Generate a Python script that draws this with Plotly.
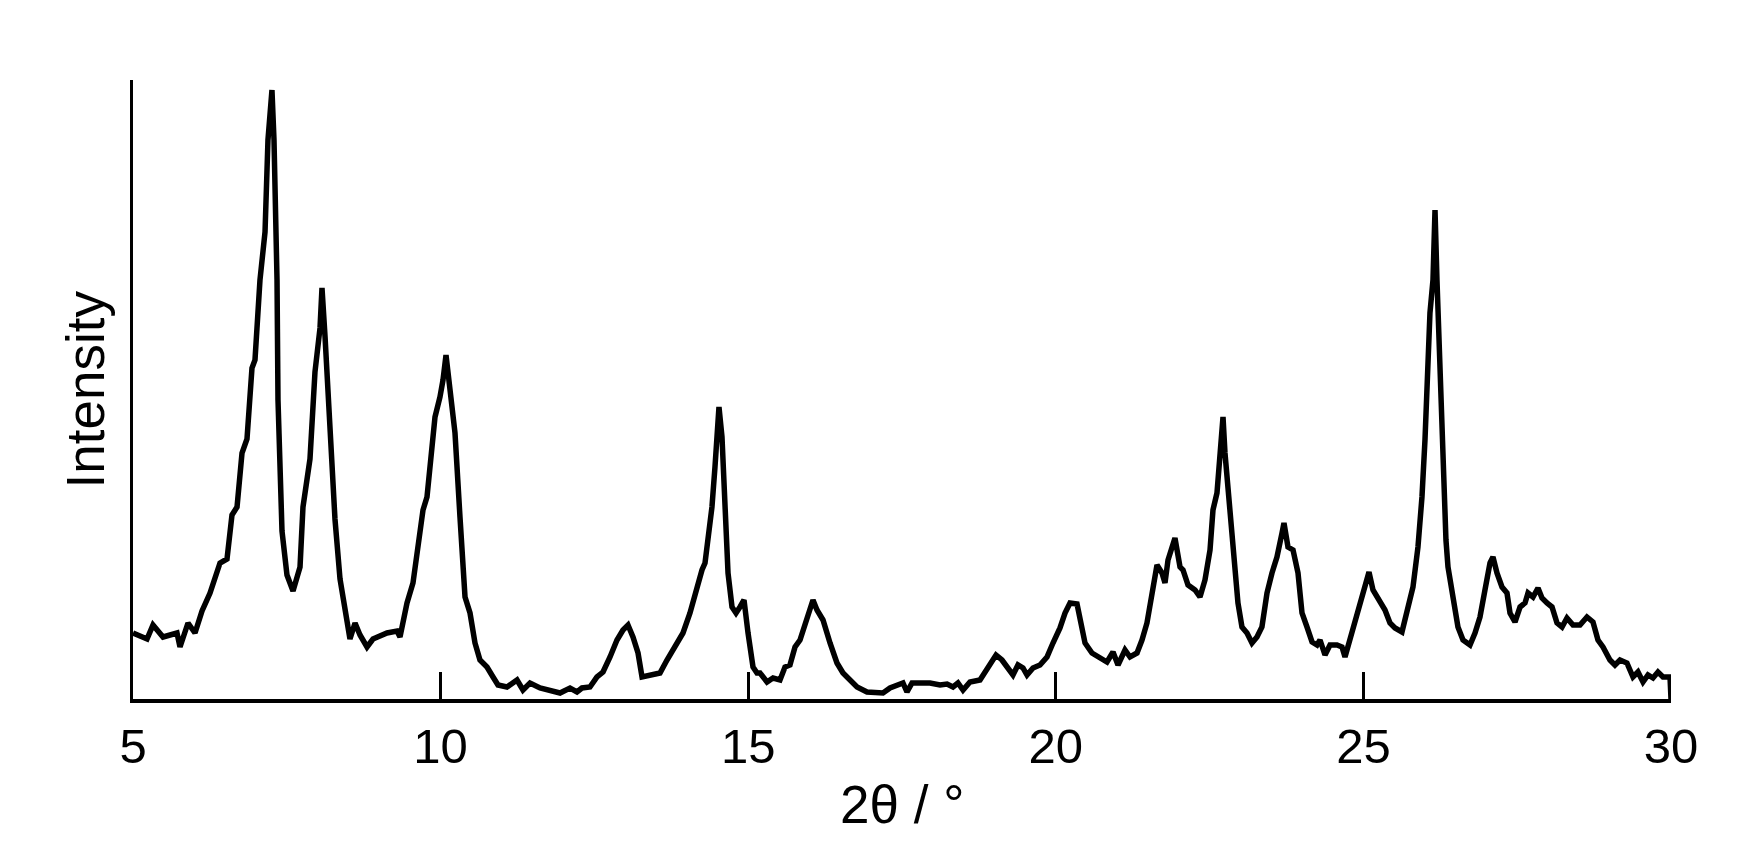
import plotly.graph_objects as go

# 2θ (degrees) and intensity (arbitrary units)
two_theta = [
    5.000, 5.228, 5.325, 5.488, 5.715, 5.764, 5.894, 6.008, 6.122, 6.252,
    6.414, 6.528, 6.609, 6.691, 6.772, 6.853, 6.934, 6.983, 7.064, 7.146,
    7.194, 7.259, 7.292, 7.341, 7.357, 7.422, 7.503, 7.601, 7.715, 7.763,
    7.877, 7.958, 8.040, 8.072, 8.121, 8.202, 8.283, 8.365, 8.446, 8.527,
    8.609, 8.690, 8.804, 8.901, 9.129, 9.291,
    9.340, 9.454, 9.551, 9.633, 9.714, 9.779, 9.860, 9.909, 9.990, 10.039,
    10.088, 10.153, 10.234, 10.315, 10.397, 10.478, 10.559, 10.640, 10.754, 10.852,
    10.933, 11.079, 11.242, 11.339, 11.453, 11.616, 11.778, 11.941, 12.103, 12.217,
    12.298, 12.428, 12.542, 12.640, 12.754, 12.867, 12.965, 13.046, 13.127, 13.209,
    13.274, 13.453, 13.566,
    13.680, 13.778, 13.859, 13.940, 14.054, 14.168, 14.249, 14.298, 14.346, 14.411,
    14.460, 14.493, 14.525, 14.574, 14.623, 14.672, 14.737, 14.802, 14.866, 14.932,
    14.997, 15.078, 15.143, 15.192, 15.306, 15.403, 15.517, 15.598, 15.679, 15.761,
    15.842, 15.956, 16.053, 16.118, 16.216, 16.330, 16.443, 16.541, 16.655, 16.769,
    16.931, 17.094, 17.191, 17.305, 17.419, 17.516, 17.581, 17.663, 17.793, 17.955,
    18.118, 18.232, 18.329, 18.410, 18.492, 18.605, 18.768, 18.882, 18.963, 19.028,
    19.125, 19.223, 19.304, 19.385, 19.467, 19.532, 19.629, 19.743, 19.857, 19.954,
    20.068, 20.150, 20.231, 20.345, 20.393, 20.475, 20.588, 20.718, 20.832, 20.930,
    21.011, 21.125, 21.206, 21.320, 21.401, 21.482, 21.564, 21.645, 21.726, 21.775,
    21.824, 21.937, 22.019, 22.068, 22.149, 22.263, 22.344, 22.425, 22.507, 22.555,
    22.620, 22.669, 22.718, 22.750, 22.799, 22.864, 22.913, 22.961, 23.026, 23.108,
    23.189, 23.270, 23.351, 23.433, 23.514, 23.595, 23.677, 23.709, 23.774, 23.856,
    23.937, 24.002, 24.083, 24.165, 24.246, 24.295, 24.376, 24.457, 24.571, 24.652,
    24.701, 24.782, 24.863, 24.977, 25.058, 25.091, 25.156, 25.270, 25.351, 25.432,
    25.514, 25.627, 25.709, 25.806, 25.887, 25.952, 26.001, 26.033, 26.082, 26.131,
    26.164, 26.196, 26.245, 26.294, 26.342, 26.375, 26.456, 26.537, 26.619, 26.733,
    26.814, 26.895, 26.976, 27.058, 27.106, 27.171, 27.253, 27.334, 27.383, 27.464,
    27.546, 27.627, 27.676, 27.757, 27.838, 27.903, 27.984, 28.066, 28.147, 28.228,
    28.309, 28.407, 28.521, 28.634, 28.732, 28.813, 28.894, 29.008, 29.089, 29.171,
    29.284, 29.382, 29.463, 29.545, 29.626, 29.707, 29.788, 29.870, 29.984, 30.000,
]

intensity = [
    66, 60, 74, 62, 66, 52, 76, 66, 88, 106,
    136, 140, 184, 192, 246, 260, 331, 339, 419, 467,
    559, 609, 559, 419, 299, 168, 124, 108, 132, 192,
    240, 327, 371, 411, 363, 260, 180, 120, 92, 60,
    76, 64, 52, 60, 66, 68,
    62, 96, 116, 152, 189, 202, 246, 282, 302, 319,
    344, 309, 266, 182, 102, 86, 56, 39, 32, 22,
    14, 12, 19, 9, 16, 11, 9, 6, 11, 7,
    11, 12, 22, 27, 42, 59, 69, 74, 62, 46,
    22, 24, 26,
    39, 49, 59, 66, 86, 112, 129, 136, 159, 192,
    232, 266, 292, 262, 192, 126, 92, 86, 92, 99,
    66, 32, 26, 26, 17, 21, 19, 32, 34, 52,
    59, 79, 99, 89, 79, 56, 36, 26, 19, 12,
    7, 7, 6, 11, 14, 16, 7, 16, 16, 16,
    14, 15, 12, 16, 9, 17, 19, 29, 37, 44,
    39, 31, 24, 34, 31, 24, 31, 34, 42, 56,
    71, 86, 96, 95, 79, 56, 46, 42, 37, 47,
    34, 49, 42, 46, 59, 76, 106, 134, 126, 116,
    139, 161, 132, 129, 114, 109, 102, 119, 149, 189,
    206, 242, 282, 246, 212, 169, 139, 96, 72, 66,
    56, 62, 72, 106, 126, 142, 166, 176, 152, 149,
    126, 86, 72, 57, 54, 59, 44, 54, 54, 52,
    42, 59, 76, 99, 119, 127, 109, 96, 89, 76,
    71, 67, 89, 112, 152, 202, 259, 319, 386, 419,
    489, 419, 319, 219, 159, 132, 102, 72, 59, 54,
    66, 82, 109, 136, 142, 126, 112, 106, 86, 77,
    92, 96, 106, 102, 111, 101, 96, 92, 76, 72,
    81, 74, 74, 82, 77, 59, 52, 39, 34, 39,
    36, 22, 27, 17, 24, 21, 27, 22, 22, 0,
]

tick_values = [5, 10, 15, 20, 25, 30]
tick_labels = ["5", "10", "15", "20", "25", "30"]

FONT = "Liberation Sans, Arial, Helvetica, sans-serif"

fig = go.Figure()
fig.add_trace(go.Scatter(
    x=two_theta, y=intensity, mode="lines",
    line=dict(color="black", width=5.5),
    cliponaxis=False, showlegend=False, hoverinfo="skip",
))

# the page body has an 8px margin, so the figure is 16px smaller than the window
fig.update_layout(
    width=1749, height=838,
    margin=dict(l=125, r=86, t=72, b=147),
    paper_bgcolor="white", plot_bgcolor="white",
    font=dict(family=FONT, color="black"),
    xaxis=dict(
        range=[5, 30], showgrid=False, zeroline=False,
        showline=True, linecolor="black", linewidth=4,
        ticks="inside", ticklen=27, tickwidth=3, tickcolor="black",
        tickvals=tick_values, ticktext=tick_labels,
        tickfont=dict(size=49, family=FONT, color="black"),
        ticklabelstandoff=1,
    ),
    yaxis=dict(
        range=[0, 619], showgrid=False, zeroline=False,
        showline=True, linecolor="black", linewidth=3,
        showticklabels=False, ticks="",
    ),
    annotations=[
        dict(text="Intensity", xref="paper", yref="paper",
             x=(85 - 133) / 1538, y=0.5, xanchor="center", yanchor="middle",
             textangle=-90, showarrow=False,
             font=dict(size=53, family=FONT, color="black")),
        dict(text="2θ / °", xref="paper", yref="paper",
             x=0.5, y=(699 - 804) / 619, xanchor="center", yanchor="middle",
             showarrow=False,
             font=dict(size=53, family=FONT, color="black")),
    ],
)

fig.write_html("out.html")
